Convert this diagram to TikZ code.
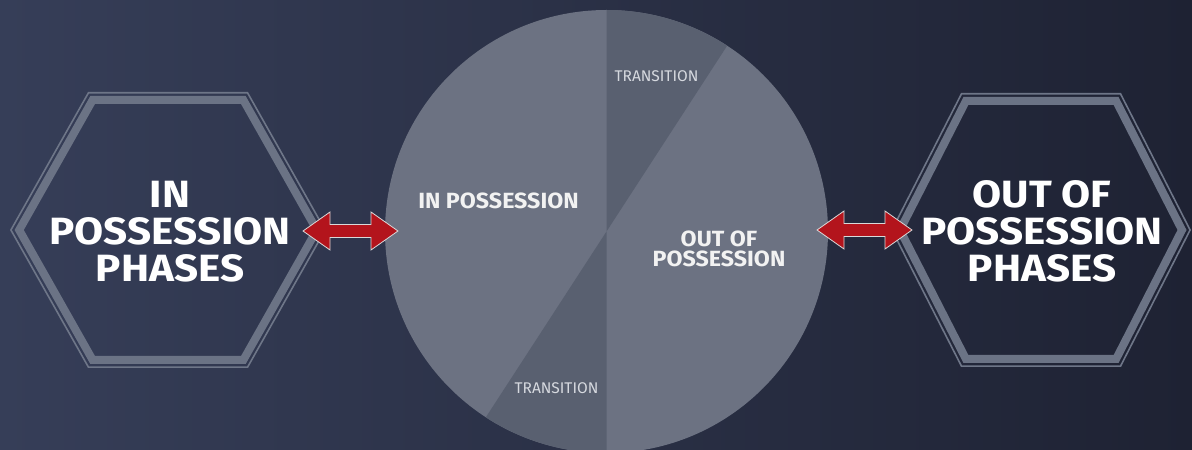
\documentclass[tikz,border=0pt]{standalone}
\usepackage{fontspec}
\setmainfont{Fira Sans}
\newfontfamily\hexfont[FakeStretch=1.11]{Fira Sans}
\newfontfamily\piefont[FakeStretch=1.055]{Fira Sans}
\usetikzlibrary{calc}
\definecolor{bgL}{HTML}{363E58}
\definecolor{bgM}{HTML}{2A2F44}
\definecolor{bgR}{HTML}{1E2233}
\definecolor{pielight}{HTML}{6C7282}
\definecolor{piedark}{HTML}{596070}
\definecolor{hexline}{HTML}{6E7688}
\definecolor{hexbandc}{HTML}{6B7385}
\definecolor{arrowred}{HTML}{B3141C}
\definecolor{arrowedge}{HTML}{D9D9D9}
\definecolor{transtext}{HTML}{D6D9DF}
% #1 name, #2 cx, #3 cy, #4 half width, #5 half top edge, #6 half height, #7 inset
\newcommand{\hexcoords}[7]{%
  \pgfmathsetmacro{\hxL}{10*sqrt(((#4-#5)/10)*((#4-#5)/10)+(#6/10)*(#6/10))}%
  \pgfmathsetmacro{\hxW}{#4-#7*\hxL/#6}%
  \pgfmathsetmacro{\hxH}{#6-#7}%
  \pgfmathsetmacro{\hxA}{\hxW-\hxH*(#4-#5)/#6}%
  \coordinate (#1-1) at (#2+\hxW,#3);
  \coordinate (#1-2) at (#2+\hxA,#3+\hxH);
  \coordinate (#1-3) at (#2-\hxA,#3+\hxH);
  \coordinate (#1-4) at (#2-\hxW,#3);
  \coordinate (#1-5) at (#2-\hxA,#3-\hxH);
  \coordinate (#1-6) at (#2+\hxA,#3-\hxH);
}
\tikzset{
  hexthin/.style={draw=hexline, line width=1.6pt, line join=miter},
  hexband/.style={draw=hexbandc, line width=8pt, line join=miter},
  arrowshape/.style={fill=arrowred, draw=arrowedge, line width=0.8pt, line join=miter},
  hexlabel/.style={text=white, font=\hexfont\bfseries\fontsize{38}{37}\selectfont, align=center, inner sep=0pt},
  pielabel/.style={text=white!95!black, font=\piefont\bfseries\fontsize{22}{20}\selectfont, align=center, inner sep=0pt},
  translabel/.style={text=transtext, font=\fontsize{15.5}{16}\selectfont, inner sep=0pt},
  dblarrow/.pic={
    \filldraw[arrowshape] (-47.5,0) -- (-20.5,19) -- (-20.5,6.5) -- (20.5,6.5) -- (20.5,19) -- (47.5,0)
      -- (20.5,-19) -- (20.5,-6.5) -- (-20.5,-6.5) -- (-20.5,-19) -- cycle;
  }
}
\begin{document}
\begin{tikzpicture}[x=1pt,y=1pt]
\useasboundingbox (0,0) rectangle (1192,450);
\clip (0,0) rectangle (1192,450);
\shade[left color=bgL, middle color=bgM, right color=bgR] (0,0) rectangle (1192,450);
% left hexagon
\hexcoords{Lo}{168}{220}{158}{80}{138}{0.8}
\hexcoords{Lb}{168}{220}{158}{80}{138}{8}
\draw[hexthin] (Lo-1) -- (Lo-2) -- (Lo-3) -- (Lo-4) -- (Lo-5) -- (Lo-6) -- cycle;
\draw[hexband] (Lb-1) -- (Lb-2) -- (Lb-3) -- (Lb-4) -- (Lb-5) -- (Lb-6) -- cycle;
% right hexagon
\hexcoords{Ro}{1041}{220}{150}{80}{137}{0.8}
\hexcoords{Rb}{1041}{220}{150}{80}{137}{8}
\draw[hexthin] (Ro-1) -- (Ro-2) -- (Ro-3) -- (Ro-4) -- (Ro-5) -- (Ro-6) -- cycle;
\draw[hexband] (Rb-1) -- (Rb-2) -- (Rb-3) -- (Rb-4) -- (Rb-5) -- (Rb-6) -- cycle;
% pie
\node[circle, minimum size=443pt, inner sep=0pt, fill=pielight] (pie) at (606.5,218.5) {};
\fill[piedark] (pie.center) -- ++(57:221.5) arc[start angle=57, end angle=90, radius=221.5] -- cycle;
\fill[piedark] (pie.center) -- ++(237:221.5) arc[start angle=237, end angle=270, radius=221.5] -- cycle;
% labels
\node[hexlabel] (inphases) at (170,218.5) {IN\\POSSESSION\\PHASES};
\node[hexlabel] (outphases) at (1042,218.5) {OUT OF\\POSSESSION\\PHASES};
\node[pielabel] (inpos) at (498.5,249.5) {IN POSSESSION};
\node[pielabel] (outpos) at (719,201.5) {OUT OF\\POSSESSION};
\node[translabel] (transtop) at (656.5,374) {TRANSITION};
\node[translabel] (transbot) at (556.5,62) {TRANSITION};
% arrows
\pic at (350.5,219) {dblarrow};
\pic at (864.5,220) {dblarrow};
\end{tikzpicture}
\end{document}
